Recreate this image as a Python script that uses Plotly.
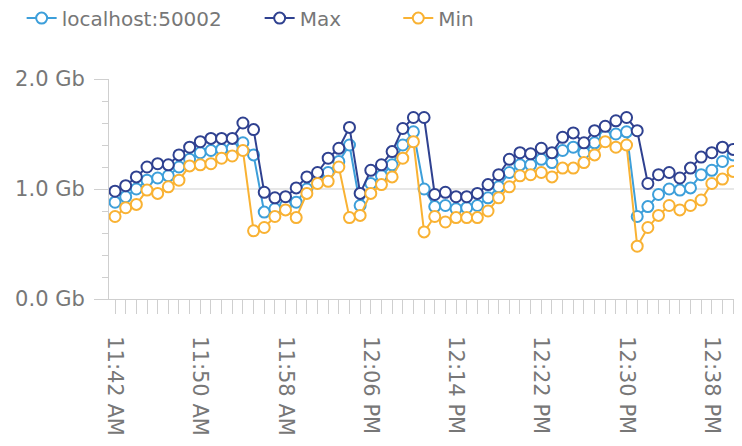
import pandas as pd
import plotly.graph_objects as go

start_time = "2024-01-01 11:42"
n_points = 59
times = pd.date_range(start_time, periods=n_points, freq="1min")

localhost = [0.88, 0.93, 1.00, 1.08, 1.10, 1.12, 1.20, 1.27, 1.33, 1.35,
             1.36, 1.37, 1.42, 1.31, 0.79, 0.82, 0.85, 0.88, 1.00, 1.08,
             1.15, 1.25, 1.40, 0.85, 1.05, 1.12, 1.22, 1.40, 1.52, 1.00,
             0.84, 0.85, 0.82, 0.83, 0.85, 0.92, 1.02, 1.15, 1.22, 1.22,
             1.27, 1.24, 1.35, 1.38, 1.33, 1.42, 1.48, 1.50, 1.52, 0.75,
             0.84, 0.95, 1.00, 0.99, 1.01, 1.13, 1.17, 1.25, 1.31]
max_vals = [0.98, 1.03, 1.11, 1.20, 1.23, 1.22, 1.31, 1.38, 1.43, 1.46,
            1.46, 1.46, 1.60, 1.54, 0.97, 0.92, 0.93, 1.01, 1.11, 1.15,
            1.28, 1.37, 1.56, 0.96, 1.17, 1.22, 1.34, 1.55, 1.65, 1.65,
            0.95, 0.97, 0.93, 0.93, 0.96, 1.04, 1.13, 1.27, 1.33, 1.32,
            1.37, 1.33, 1.47, 1.51, 1.42, 1.53, 1.57, 1.62, 1.65, 1.53,
            1.05, 1.13, 1.15, 1.10, 1.19, 1.29, 1.33, 1.38, 1.36]
min_vals = [0.75, 0.83, 0.86, 0.99, 0.96, 1.02, 1.08, 1.21, 1.22, 1.23,
            1.28, 1.30, 1.35, 0.62, 0.65, 0.75, 0.81, 0.74, 0.96, 1.05,
            1.07, 1.20, 0.74, 0.76, 0.96, 1.04, 1.11, 1.28, 1.43, 0.61,
            0.75, 0.70, 0.74, 0.74, 0.74, 0.80, 0.92, 1.02, 1.12, 1.13,
            1.15, 1.11, 1.19, 1.19, 1.24, 1.31, 1.43, 1.38, 1.40, 0.48,
            0.65, 0.76, 0.85, 0.81, 0.85, 0.90, 1.05, 1.09, 1.16]

series_names = ["localhost:50002", "Max", "Min"]
series_values = [localhost, max_vals, min_vals]
series_colors = ["#3d9fda", "#2f4190", "#f9b233"]
legend_ids = ["legend", "legend2", "legend3"]
legend_x = [-0.138, 0.238, 0.457]

TEXT = "#777777"
AXIS = "#cfcfcf"
FONT = "DejaVu Sans"

fig = go.Figure()
for name, vals, col, lg in zip(series_names, series_values, series_colors, legend_ids):
    fig.add_trace(go.Scatter(
        x=times, y=vals, name=name, mode="lines+markers",
        line=dict(color=col, width=2),
        marker=dict(symbol="circle", size=11, color="white",
                    line=dict(color=col, width=2)),
        legend=lg,
    ))

fig.add_hline(y=1.0, line=dict(color=AXIS, width=1), layer="below")

legend_common = dict(orientation="h", xanchor="left", y=1.277, yanchor="middle",
                     font=dict(size=20, color=TEXT, family=FONT), itemwidth=30,
                     bgcolor="rgba(0,0,0,0)")

fig.update_layout(
    width=734, height=438,
    margin=dict(l=101, r=0, t=71, b=147, autoexpand=False),
    paper_bgcolor="white", plot_bgcolor="white",
    font=dict(family=FONT, color=TEXT, size=20),
    showlegend=True,
    legend=dict(x=legend_x[0], **legend_common),
    legend2=dict(x=legend_x[1], **legend_common),
    legend3=dict(x=legend_x[2], **legend_common),
    xaxis=dict(
        type="date",
        range=["2024-01-01 11:41:26", "2024-01-01 12:40:50"],
        tick0="2024-01-01 11:42", dtick=8 * 60 * 1000,
        tickformat="%-I:%M %p", tickangle=90,
        ticks="outside", ticklen=14, tickcolor=AXIS,
        minor=dict(dtick=60 * 1000, ticks="outside", ticklen=14, tickcolor=AXIS),
        showline=True, linecolor=AXIS, linewidth=1,
        showgrid=False, zeroline=False,
        tickfont=dict(size=21, color=TEXT, family=FONT),
        ticklabelstandoff=18,
    ),
    yaxis=dict(
        range=[0, 2], tickvals=[0, 1, 2], ticktext=["0.0 Gb", "1.0 Gb", "2.0 Gb"],
        ticks="outside", ticklen=14, tickcolor=AXIS,
        minor=dict(dtick=0.2, ticks="outside", ticklen=6, tickcolor=AXIS),
        showline=True, linecolor=AXIS, linewidth=1,
        showgrid=False, zeroline=False,
        tickfont=dict(size=21, color=TEXT, family=FONT),
        ticklabelstandoff=5,
    ),
)

fig.write_html("out.html")
